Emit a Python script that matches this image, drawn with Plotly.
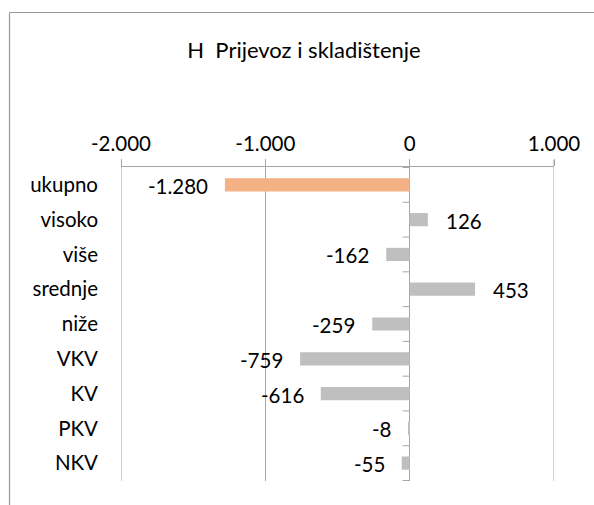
import plotly.graph_objects as go

categories = ["ukupno", "visoko", "više", "srednje", "niže", "VKV", "KV", "PKV", "NKV"]
values = [-1280, 126, -162, 453, -259, -759, -616, -8, -55]
value_labels = ["-1.280", "126", "-162", "453", "-259", "-759", "-616", "-8", "-55"]
tick_vals = [-2000, -1000, 0, 1000]
tick_text = ["-2.000", "-1.000", "0", "1.000"]
title_text = "H  Prijevoz i skladištenje"

FONT = "Lato"
FS = 20.5
W, H = 594, 505
ML, MR, MT, MB = 121, 40, 167, 24
GRID = "#A6A6A6"
FRAME = "#999999"

colors = ["#F4B183"] + ["#BFBFBF"] * (len(categories) - 1)

fig = go.Figure()
fig.add_trace(go.Bar(
    x=values, y=categories, orientation="h",
    marker=dict(color=colors, line=dict(width=0)),
    width=0.38, hoverinfo="x+y", showlegend=False,
))

for c, v, t in zip(categories, values, value_labels):
    fig.add_annotation(
        x=v, y=c, xref="x", yref="y", text=t, showarrow=False,
        xanchor="right" if v < 0 else "left",
        xshift=-15 if v < 0 else 16, yshift=-1,
        font=dict(family=FONT, size=FS, color="#000000"),
    )

# category tick marks on the zero axis
for i in range(len(categories) + 1):
    fig.add_shape(type="line", xref="x", yref="y", xsizemode="pixel", xanchor=0,
                  x0=-7, x1=0, y0=i - 0.5, y1=i - 0.5,
                  line=dict(color=GRID, width=1))

pw = W - ML - MR
ph = H - MT - MB

# gridlines at the range ends (plotly clips those), including their outside ticks
for tv in (tick_vals[0], tick_vals[-1]):
    fig.add_shape(type="line", xref="x", yref="paper", x0=tv, x1=tv,
                  y0=0, y1=1 + 7 / ph, line=dict(color=GRID, width=1))

# chart frame: top and left edges (the rest lies outside the window)
fx = (9.5 - ML) / pw
fy = 1 + (MT - 12.5) / ph
fig.add_shape(type="line", xref="paper", yref="paper",
              x0=fx, x1=(W + 5 - ML) / pw, y0=fy, y1=fy,
              line=dict(color=FRAME, width=1.2), layer="above")
fig.add_shape(type="line", xref="paper", yref="paper",
              x0=fx, x1=fx, y0=fy, y1=-(MB + 5) / ph,
              line=dict(color=FRAME, width=1.2), layer="above")

fig.update_layout(
    width=W, height=H,
    margin=dict(l=ML, r=MR, t=MT, b=MB),
    paper_bgcolor="white", plot_bgcolor="white",
    font=dict(family=FONT, size=FS, color="#000000"),
    title=dict(text=title_text, x=304 / W, xref="container", xanchor="center",
               y=1 - 50 / H, yref="container", yanchor="middle",
               font=dict(family=FONT, size=22, color="#000000")),
    xaxis=dict(range=[-2000, 1000], side="top", tickvals=tick_vals, ticktext=tick_text,
               showgrid=True, gridcolor=GRID, gridwidth=1,
               showline=True, linecolor=GRID, linewidth=1,
               ticks="outside", ticklen=7, tickcolor=GRID,
               zeroline=False, fixedrange=True,
               tickfont=dict(family=FONT, size=FS, color="#000000")),
    yaxis=dict(categoryorder="array", categoryarray=categories, autorange="reversed",
               showgrid=False, zeroline=False, showline=False, ticks="",
               ticklabelstandoff=22, fixedrange=True,
               tickfont=dict(family=FONT, size=FS, color="#000000")),
    bargap=0.62,
)

fig.write_html("out.html", config={"displayModeBar": False},
               post_script="document.body.style.margin='0px';")
